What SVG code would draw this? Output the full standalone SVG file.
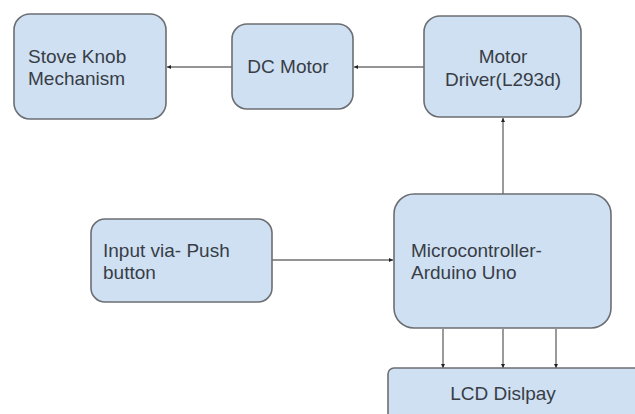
<svg xmlns="http://www.w3.org/2000/svg" width="635" height="414" viewBox="0 0 635 414">
<defs>
<style>
.box{fill:#cfe0f2;stroke:#6b6e73;stroke-width:1.6}
.t{font-family:"Liberation Sans",Arial,sans-serif;font-size:19px;fill:#383d46}
.c{text-anchor:middle}
.ln{stroke:#707070;stroke-width:1.4;fill:none;marker-end:url(#ah)}
</style>
<marker id="ah" viewBox="0 0 6 6" refX="6" refY="3" markerWidth="4" markerHeight="4" markerUnits="userSpaceOnUse" orient="auto">
<path d="M0,0 L6,3 L0,6 z" fill="#222"/>
</marker>
</defs>
<rect width="635" height="414" fill="#ffffff"/>
<g id="connectors">
<line class="ln" x1="232" y1="67" x2="167" y2="67"/>
<line class="ln" x1="424" y1="67" x2="354" y2="67"/>
<line class="ln" x1="503" y1="194" x2="503" y2="118"/>
<line class="ln" x1="272" y1="260" x2="393" y2="260"/>
<line class="ln" x1="443" y1="329" x2="443" y2="368"/>
<line class="ln" x1="503" y1="329" x2="503" y2="368"/>
<line class="ln" x1="556" y1="329" x2="556" y2="368"/>
</g>
<g id="stove">
<rect class="box" x="14" y="14" width="152" height="105" rx="16"/>
<text class="t" x="28" y="63">Stove Knob</text>
<text class="t" x="28" y="85">Mechanism</text>
</g>
<g id="dcmotor">
<rect class="box" x="232" y="24" width="121" height="85" rx="15"/>
<text class="t c" x="288" y="73">DC Motor</text>
</g>
<g id="driver">
<rect class="box" x="424" y="16" width="157" height="101" rx="16"/>
<text class="t c" x="503" y="63">Motor</text>
<text class="t c" x="503" y="86">Driver(L293d)</text>
</g>
<g id="input">
<rect class="box" x="91" y="219" width="181" height="83" rx="14"/>
<text class="t" x="103" y="257">Input via- Push</text>
<text class="t" x="103" y="279">button</text>
</g>
<g id="mcu">
<rect class="box" x="394" y="194" width="217" height="134" rx="20"/>
<text class="t" x="411" y="257">Microcontroller-</text>
<text class="t" x="411" y="279">Arduino Uno</text>
</g>
<g id="lcd">
<rect class="box" x="388" y="368" width="260" height="60" rx="6"/>
<text class="t c" x="503" y="400">LCD Dislpay</text>
</g>
</svg>
